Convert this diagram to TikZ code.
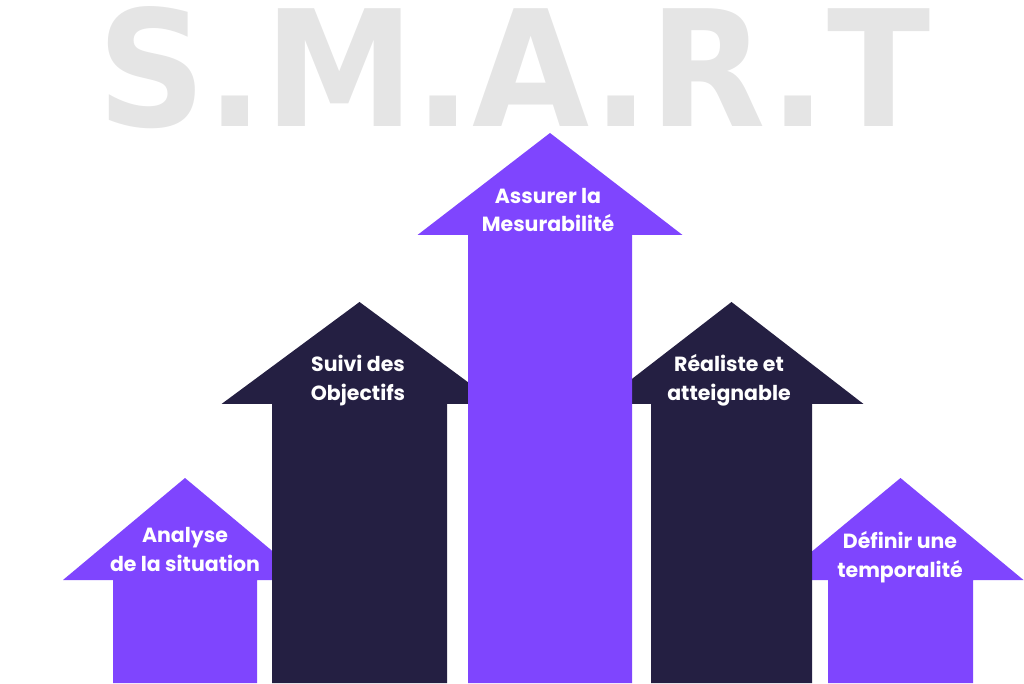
\documentclass[tikz,border=0pt]{standalone}
\usepackage{fontspec}
\setmainfont{Poppins}
\newfontfamily\titlefont{DejaVu Sans Condensed Bold}
\usepackage{tikz}
\usetikzlibrary{calc}
\definecolor{smartpurple}{HTML}{7F45FE}
\definecolor{smartdark}{HTML}{241F42}
\definecolor{smartgray}{HTML}{E5E5E5}

\begin{document}
\begin{tikzpicture}[x=1pt,y=1pt,
    lbl/.style={text=white,font=\bfseries\fontsize{20.5}{29}\selectfont,align=center,inner sep=0pt}]
      \useasboundingbox (0,0) rectangle (1024,683);
      \node[text=smartgray,inner sep=0pt] (title) at (514,615) {\resizebox{832pt}{120pt}{\titlefont S.M.A.R.T}};
      \foreach \cx/\tip/\hw/\sw/\col in {185/205/122/72/smartpurple, 900.5/205/123/72.5/smartpurple, 359.5/381/138/87.5/smartdark, 731.5/381/132/80.5/smartdark, 550/550/132.5/82/smartpurple} {
          \fill[\col] (\cx-\sw,0) -- (\cx-\sw,\tip-102) -- (\cx-\hw,\tip-102) -- (\cx,\tip) -- (\cx+\hw,\tip-102) -- (\cx+\sw,\tip-102) -- (\cx+\sw,0) -- cycle;
      }
      \node[lbl] (analyse) at (185,133.5) {Analyse\\de la situation};
      \node[lbl] (suivi) at (358,302.5) {Suivi des\\Objectifs};
      \node[lbl] (mesure) at (548,473) {Assurer la\\Mesurabilité};
      \node[lbl] (realiste) at (729,302.5) {Réaliste et\\atteignable};
      \node[lbl] (temps) at (900,126) {Définir une\\temporalité};
\end{tikzpicture}
\end{document}
